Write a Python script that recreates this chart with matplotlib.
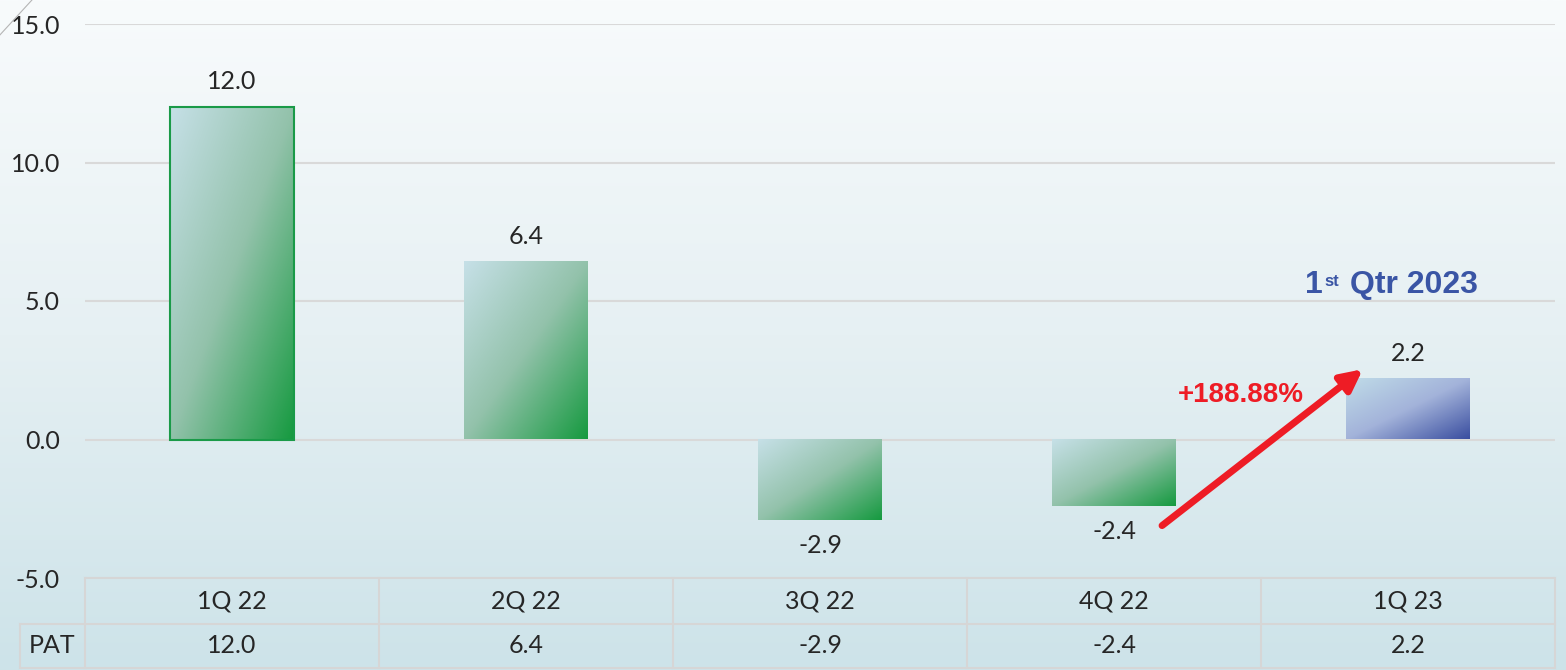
import matplotlib

matplotlib.use('Agg')

import matplotlib.pyplot as plt
import numpy as np
from matplotlib.colors import LinearSegmentedColormap
from matplotlib.lines import Line2D
from matplotlib.patches import Rectangle

quarters = ['1Q 22', '2Q 22', '3Q 22', '4Q 22', '1Q 23']
pat = [12.0, 6.4, -2.9, -2.4, 2.2]
yticks = [-5.0, 0.0, 5.0, 10.0, 15.0]
row_label = 'PAT'
growth_label = '+188.88%'

plt.rcParams['font.family'] = ['Lato', 'DejaVu Sans']

green_cmap = LinearSegmentedColormap.from_list('g', ['#c6e0e7', '#93c2ab', '#169a40'])
blue_cmap = LinearSegmentedColormap.from_list('b', ['#c0dce8', '#a3b3da', '#3a4ea0'])
bg_cmap = LinearSegmentedColormap.from_list('bg', ['#f8fbfc', '#e6f0f3', '#cde3e9'])


def gradient_bar(ax, x, h, width, cmap, edge=None):
    x0 = x - width / 2
    y0, y1 = min(0, h), max(0, h)
    u = np.linspace(0, 1, 200)
    gx, gy = np.meshgrid(u, u)
    ax.imshow((gx + gy) / 2, cmap=cmap, extent=[x0, x0 + width, y0, y1],
              aspect='auto', origin='upper', zorder=2, interpolation='bilinear')
    if edge:
        ax.add_patch(Rectangle((x0, y0), width, y1 - y0, facecolor='none',
                               edgecolor=edge, lw=1.5, zorder=3))


fig = plt.figure(figsize=(15.66, 6.70), dpi=100)

# background gradient
bg = fig.add_axes([0, 0, 1, 1], zorder=-10)
bg.imshow(np.linspace(0, 1, 256).reshape(-1, 1), cmap=bg_cmap, aspect='auto',
          extent=[0, 1, 0, 1])
bg.axis('off')
fig.add_artist(Line2D([0, 0.0204], [0.948, 1.0], color='#b5b5b5', lw=0.8))

ax = fig.add_axes([85 / 1566, 1 - 578 / 670, 1470 / 1566, 554 / 670])
ax.patch.set_alpha(0)

x = np.arange(len(quarters))
for i, v in enumerate(pat):
    cmap = blue_cmap if i == len(pat) - 1 else green_cmap
    gradient_bar(ax, x[i], v, 0.42, cmap, edge='#1a9a48' if i == 0 else None)
    if v >= 0:
        ax.annotate(f'{v:.1f}', (x[i], v), xytext=(0, 10), textcoords='offset points',
                    ha='center', va='bottom', fontsize=18, color='#262626')
    else:
        ax.annotate(f'{v:.1f}', (x[i], v), xytext=(0, -10), textcoords='offset points',
                    ha='center', va='top', fontsize=18, color='#262626')

ax.set_xlim(-0.5, len(quarters) - 0.5)
ax.set_ylim(-5, 15)
ax.set_yticks(yticks)
ax.set_yticklabels([f'{t:.1f}' for t in yticks], fontsize=18, color='#262626')
ax.set_xticks([])
ax.tick_params(axis='y', length=0, pad=18)
ax.yaxis.grid(True, color='#d9d9d9', lw=1.5, zorder=0)
ax.set_axisbelow(True)
for s in ax.spines.values():
    s.set_visible(False)

# table under the chart
tr = ax.get_xaxis_transform()
lc = '#d6d6d6'
x_left = -0.5 - 65 / 294
ax.plot([-0.5, 4.5], [0, 0], transform=tr, color=lc, lw=1.5, clip_on=False)
ax.plot([x_left, 4.5], [-0.083, -0.083], transform=tr, color=lc, lw=1.5, clip_on=False)
ax.plot([x_left, 4.5], [-0.1625, -0.1625], transform=tr, color=lc, lw=1.5, clip_on=False)
for b in np.arange(-0.5, 5, 1):
    ax.plot([b, b], [0, -0.1625], transform=tr, color=lc, lw=1.5, clip_on=False)
ax.plot([x_left, x_left], [-0.083, -0.1625], transform=tr, color=lc, lw=1.5, clip_on=False)
for i, q in enumerate(quarters):
    ax.text(x[i], -0.0415, q, transform=tr, ha='center', va='center', fontsize=18,
            color='#262626')
    ax.text(x[i], -0.121, f'{pat[i]:.1f}', transform=tr, ha='center', va='center',
            fontsize=18, color='#262626')
ax.text((x_left - 0.5) / 2, -0.121, row_label, transform=tr, ha='center', va='center',
        fontsize=18, color='#262626')

# growth arrow + labels
ax.annotate('', xy=(3.854, 2.6), xytext=(3.156, -3.17),
            arrowprops=dict(arrowstyle='-|>', color='#ee1c25', lw=5, mutation_scale=32))
ax.text(3.43, 1.6, growth_label, ha='center', va='center', fontsize=20,
        fontweight='bold', color='#ee1c25', family='Liberation Sans')

t1 = ax.text(3.65, 5.3, '1', ha='left', va='baseline', fontsize=23, fontweight='bold',
             color='#3a55a5', family='Liberation Sans')
t2 = ax.annotate('st', xy=(1, 1), xycoords=t1, xytext=(1, -3), textcoords='offset points',
                 ha='left', va='top', fontsize=12, fontweight='bold', color='#3a55a5',
                 family='Liberation Sans')
ax.annotate('Qtr 2023', xy=(1, 0), xycoords=(t2, t1), xytext=(8, 0),
            textcoords='offset points', ha='left', va='bottom', fontsize=23,
            fontweight='bold', color='#3a55a5', family='Liberation Sans')

fig.savefig('out.png', dpi=100)
